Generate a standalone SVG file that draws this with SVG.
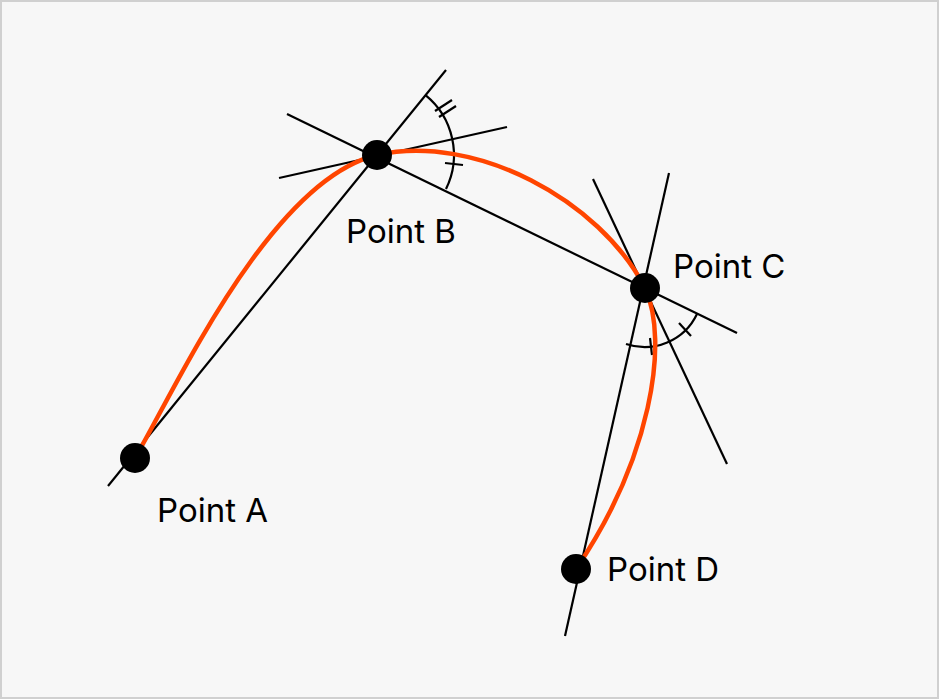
<svg xmlns="http://www.w3.org/2000/svg" width="939" height="699" viewBox="0 0 939 699">
<style>
.l{stroke:#000;stroke-width:2.2;fill:none}
.t{font-family:Inter,"Noto Sans",sans-serif;font-size:33px;font-weight:400;fill:#000}
.p{fill:#000}
</style>
<rect x="1" y="1" width="937" height="697" fill="#f7f7f7" stroke="#d0d0d0" stroke-width="2"/>
<g id="connectors">
<line class="l" x1="108" y1="486" x2="446" y2="70"/>
<line class="l" x1="287" y1="114" x2="737" y2="333"/>
<line class="l" x1="279" y1="178" x2="507" y2="127"/>
<line class="l" x1="565" y1="636" x2="669" y2="173"/>
<line class="l" x1="593" y1="179" x2="727" y2="464"/>
<path class="l" d="M425.5,95.2 A77,77 0 0 1 446,189"/>
<path class="l" d="M626,344 A58,58 0 0 0 697,314"/>
<g class="l">
<line x1="435" y1="111" x2="452" y2="100"/>
<line x1="439" y1="117" x2="456" y2="106"/>
<line x1="445" y1="163" x2="463" y2="165"/>
<line x1="650" y1="338" x2="652" y2="355"/>
<line x1="679" y1="323" x2="691" y2="336"/>
</g>
<path d="M135,458 C175,390 270,180 377,155 C475,133 600,200 645,288 C670,342 650,460 576,569" fill="none" stroke="#ff4500" stroke-width="4.5"/>
</g>
<g id="pointA"><circle class="p" cx="135" cy="458" r="15"/><text class="t" x="157" y="522">Point A</text></g>
<g id="pointB"><circle class="p" cx="377" cy="155" r="15"/><text class="t" x="346" y="243">Point B</text></g>
<g id="pointC"><circle class="p" cx="645" cy="288" r="15"/><text class="t" x="673" y="278">Point C</text></g>
<g id="pointD"><circle class="p" cx="576" cy="569" r="15"/><text class="t" x="607" y="581">Point D</text></g>
</svg>
